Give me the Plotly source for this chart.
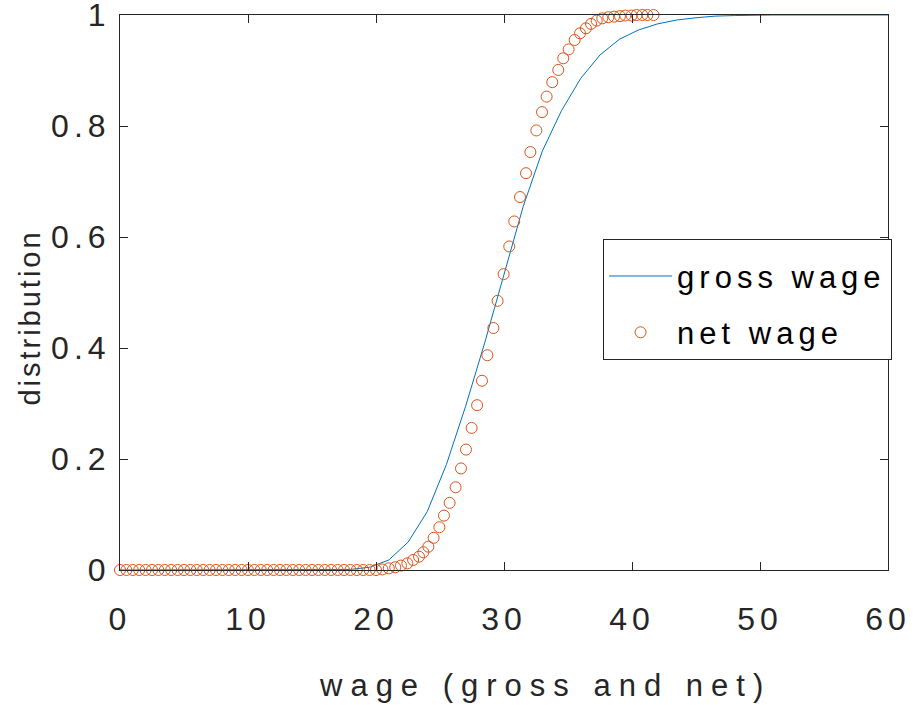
import plotly.graph_objects as go

# gross wage distribution (line)
gross_x = [0, 1.5, 3, 4.5, 6, 7.5, 9, 10.5, 12, 13.5, 15, 16.5, 18, 19.5, 21, 22.5,
           24, 25.5, 27, 28.5, 30, 31.5, 33, 34.5, 36, 37.5, 39, 40.5, 42, 43.5,
           45, 46.5, 48, 49.5, 51, 52.5, 54, 55.5, 57, 58.5, 60]
gross_y = [0, 0, 0, 0, 0, 0, 0, 0, 0, 0, 0, 0, 0.001, 0.005, 0.018, 0.05,
           0.105, 0.19, 0.295, 0.41, 0.535, 0.655, 0.755, 0.828, 0.886, 0.928, 0.956, 0.973, 0.984, 0.991,
           0.995, 0.998, 0.999, 1, 1, 1, 1, 1, 1, 1, 1]

# net wage distribution (markers)
net_x = [0, 0.5, 1, 1.5, 2, 2.5, 3, 3.5, 4, 4.5, 5, 5.5, 6, 6.5, 7, 7.5, 8, 8.5, 9, 9.5,
         10, 10.5, 11, 11.5, 12, 12.5, 13, 13.5, 14, 14.5, 15, 15.5, 16, 16.5, 17, 17.5,
         18, 18.5, 19, 19.5, 20, 20.5, 21, 21.5, 21.95, 22.45, 22.9, 23.36, 23.7, 24.09,
         24.5, 24.95, 25.31, 25.75, 26.22, 26.64, 27.03, 27.47, 27.9, 28.28, 28.7, 29.17,
         29.5, 29.97, 30.41, 30.8, 31.25, 31.72, 32.06, 32.53, 32.97, 33.33, 33.77, 34.24,
         34.63, 35.05, 35.52, 35.94, 36.4, 36.8, 37.24, 37.68, 38.15, 38.6, 39.06, 39.48,
         39.97, 40.36, 40.8, 41.2, 41.68]
net_y = [0, 0, 0, 0, 0, 0, 0, 0, 0, 0, 0, 0, 0, 0, 0, 0, 0, 0, 0, 0,
         0, 0, 0, 0, 0, 0, 0, 0, 0, 0, 0, 0, 0, 0, 0, 0,
         0, 0, 0, 0, 0, 0.001, 0.003, 0.005, 0.008, 0.012, 0.018, 0.024, 0.032, 0.042,
         0.058, 0.077, 0.098, 0.121, 0.149, 0.183, 0.217, 0.256, 0.297, 0.341, 0.387, 0.436,
         0.485, 0.533, 0.583, 0.628, 0.672, 0.715, 0.753, 0.792, 0.825, 0.853, 0.879, 0.901,
         0.922, 0.938, 0.955, 0.967, 0.976, 0.984, 0.990, 0.994, 0.996, 0.997, 0.998, 0.999,
         0.999, 1, 1, 1, 1]

x_ticks = [0, 10, 20, 30, 40, 50, 60]
y_ticks = [0, 0.2, 0.4, 0.6, 0.8, 1]
y_tick_labels = ['0', '0.2', '0.4', '0.6', '0.8', '1']

TXT = '#262626'
FONT = 'Liberation Sans, Arial'


def spaced(s, px):
    return f'<span style="letter-spacing:{px}px">{s}</span>'


fig = go.Figure()

fig.add_trace(go.Scatter(
    x=gross_x, y=gross_y,
    mode='lines',
    name=spaced('gross wage', 5),
    legendgroup='g',
    line=dict(color='#0072BD', width=1),
    cliponaxis=False
))

fig.add_trace(go.Scatter(
    x=net_x, y=net_y,
    mode='markers',
    name=spaced('net wage', 5),
    legendgroup='n',
    marker=dict(symbol='circle-open', size=11, color='#D95319', line=dict(width=1, color='#D95319')),
    cliponaxis=False
))

axis_common = dict(
    showgrid=False, zeroline=False,
    showline=True, linecolor=TXT, linewidth=1,
    mirror='ticks', ticks='inside', ticklen=8, tickcolor=TXT,
    tickfont=dict(family=FONT, size=32, color=TXT),
    automargin=False,
    ticklabeloverflow='allow',
)

fig.update_layout(
    width=917, height=705,
    margin=dict(l=120, r=29, t=15, b=135),
    plot_bgcolor='white',
    paper_bgcolor='white',
    xaxis=dict(
        range=[0, 60],
        tickvals=x_ticks,
        ticktext=[spaced(str(v), 5) for v in x_ticks],
        ticklabelstandoff=21,
        **axis_common
    ),
    yaxis=dict(
        range=[0, 1],
        tickvals=y_ticks,
        ticktext=[spaced(t, 5) for t in y_tick_labels],
        ticklabelstandoff=2,
        **axis_common
    ),
    legend=dict(
        x=0.629, y=0.596, xanchor='left', yanchor='top',
        bgcolor='white', bordercolor=TXT, borderwidth=1,
        font=dict(family=FONT, size=31, color='black'),
        title=dict(text=' ', font=dict(size=7)),
        itemwidth=63, tracegroupgap=13
    ),
    showlegend=True,
    annotations=[
        dict(text=spaced('wage (gross and net)', 8), xref='paper', yref='paper',
             x=0.553, y=-0.208, xanchor='center', yanchor='middle', showarrow=False,
             font=dict(family=FONT, size=31, color=TXT)),
        dict(text=spaced('distribution', 3), xref='paper', yref='paper',
             x=-0.117, y=0.455, xanchor='center', yanchor='middle', showarrow=False,
             textangle=-90, font=dict(family=FONT, size=29, color=TXT)),
    ]
)

fig.write_html("out.html", config={'displayModeBar': False},
               post_script="document.body.style.margin='0';")
